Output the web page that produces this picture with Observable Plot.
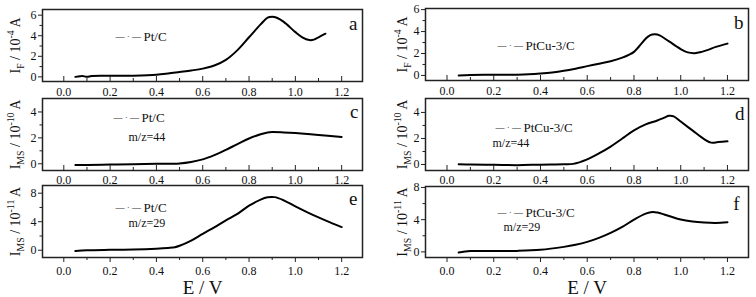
<!DOCTYPE html>
<html><head><meta charset="utf-8">
<script src="https://cdn.jsdelivr.net/npm/d3@7"></script>
<script src="https://cdn.jsdelivr.net/npm/@observablehq/plot@0.6"></script>
<style>
body{margin:0;background:#fff;}
#wrap{position:relative;width:756px;height:297px;overflow:hidden;background:#fff;}
#wrap svg{position:absolute;}
#wrap svg, #wrap svg text{font-family:'Liberation Serif','Times New Roman',serif !important;}
</style></head><body><div id="wrap"></div>
<script>
// ---- data ----
const xTicks = [0, 0.2, 0.4, 0.6, 0.8, 1.0, 1.2];
const xMinor = [0.1, 0.3, 0.5, 0.7, 0.9, 1.1];

const aE = [0.05,0.07,0.08,0.10,0.12,0.2,0.3,0.4,0.45,0.5,0.55,0.6,0.65,0.7,0.75,0.8,0.85,0.88,0.9,0.92,0.95,1.0,1.03,1.06,1.08,1.1,1.13];
const aI = [0.0,0.05,0.09,0.0,0.08,0.1,0.12,0.2,0.32,0.47,0.62,0.8,1.1,1.65,2.6,3.85,5.1,5.75,5.85,5.75,5.35,4.35,3.85,3.58,3.62,3.85,4.2];

const bE = [0.05,0.1,0.2,0.3,0.35,0.4,0.45,0.5,0.55,0.6,0.65,0.7,0.75,0.78,0.8,0.83,0.85,0.87,0.89,0.91,0.95,1.0,1.03,1.06,1.09,1.12,1.15,1.2];
const bI = [0.0,0.05,0.06,0.07,0.1,0.17,0.27,0.42,0.62,0.85,1.07,1.3,1.62,1.9,2.15,2.85,3.35,3.68,3.75,3.65,3.1,2.4,2.1,2.03,2.15,2.35,2.6,2.9];

const cE = [0.05,0.1,0.2,0.3,0.4,0.5,0.55,0.6,0.65,0.7,0.75,0.8,0.85,0.88,0.9,0.95,1.0,1.1,1.2];
const cI = [-0.1,-0.1,-0.06,-0.03,0.0,0.03,0.14,0.34,0.67,1.08,1.52,1.95,2.28,2.42,2.45,2.42,2.37,2.23,2.07];

const dE = [0.05,0.1,0.2,0.3,0.4,0.5,0.54,0.6,0.65,0.7,0.75,0.8,0.85,0.9,0.93,0.95,0.97,1.0,1.05,1.1,1.13,1.16,1.2];
const dI = [0.02,0.0,-0.02,-0.05,-0.01,0.02,0.05,0.4,0.85,1.38,2.0,2.62,3.08,3.38,3.6,3.74,3.7,3.3,2.62,1.95,1.68,1.72,1.78];

const eE = [0.05,0.1,0.2,0.3,0.4,0.45,0.48,0.5,0.55,0.6,0.65,0.7,0.75,0.8,0.85,0.88,0.91,0.95,1.0,1.05,1.1,1.15,1.2];
const eI = [-0.12,-0.02,0.05,0.1,0.22,0.32,0.42,0.62,1.35,2.3,3.2,4.2,5.1,6.25,7.1,7.42,7.45,7.0,6.15,5.35,4.6,3.9,3.25];

const fE = [0.05,0.1,0.2,0.3,0.4,0.5,0.55,0.6,0.65,0.7,0.75,0.8,0.85,0.88,0.9,0.95,1.0,1.05,1.1,1.15,1.2];
const fI = [-0.08,0.1,0.1,0.12,0.25,0.62,0.88,1.24,1.74,2.36,3.1,4.0,4.75,4.95,4.88,4.45,4.02,3.78,3.65,3.6,3.68];

const yTicksA = [0, 2, 4, 6], yMinorA = [1, 3, 5];
const yTicksC = [0, 2, 4],    yMinorC = [1, 3];
const yTicksE = [0, 4, 8],    yMinorE = [2, 6];

const labelF = "I_{F} / 10^{-4} A";
const labelMS10 = "I_{MS} / 10^{-10} A";
const labelMS11 = "I_{MS} / 10^{-11} A";
const catPt = "Pt/C", catPtCu = "PtCu-3/C";
const mz44 = "m/z=44", mz29 = "m/z=29";
const xLabel = "E / V";
const legendSample = "\u2014 \u00B7 \u2014";

// ---- drawing ----
const FONT = "'Liberation Serif','Times New Roman',serif";
const LABEL_FS = 14;
const wrap = document.getElementById("wrap");

// turn "_{..}" / "^{..}" into sub/superscript tspans, then re-centre the label
function richify(svg, fs) {
  d3.select(svg).selectAll("text").each(function () {
    const s = this.textContent;
    if (!/[_^]\{/.test(s)) return;
    const el = d3.select(this);
    el.text(null).attr("text-anchor", "start");
    const re = /([_^])\{([^}]*)\}/g;
    let last = 0, m;
    const seg = (txt, shift, size) => {
      const t = el.append("tspan").attr("font-size", size).text(txt);
      if (shift) t.attr("baseline-shift", shift);
    };
    while ((m = re.exec(s))) {
      if (m.index > last) seg(s.slice(last, m.index), 0, fs);
      if (m[1] === "_") seg(m[2], -0.28 * fs, 0.7 * fs);
      else seg(m[2], 0.42 * fs, 0.7 * fs);
      last = re.lastIndex;
    }
    if (last < s.length) seg(s.slice(last), 0, fs);
    const len = this.getComputedTextLength();
    el.attr("x", -len / 2);
  });
}

function panel(p) {
  const data = p.E.map((e, i) => ({E: e, I: p.I[i]}));
  const marks = [
    Plot.line(data, {x: "E", y: "I", stroke: "#000", strokeWidth: 2, curve: "catmull-rom"}),
    Plot.axisX(xTicks, {tickSize: 0, tickPadding: p.xPad, tickFormat: d3.format(".1f"), fontSize: 12, label: null}),
    Plot.axisX(xTicks, {tickSize: p.xDir * 5, tickFormat: () => "", label: null, stroke: "#222"}),
    Plot.axisX(xMinor, {tickSize: p.xDir * 3, tickFormat: () => "", label: null, stroke: "#222"}),
    Plot.axisY(p.yTicks, {tickSize: 4, tickPadding: 2, fontSize: 12, label: null, stroke: "#222"}),
    Plot.axisY(p.yMinor, {tickSize: 2.5, tickFormat: () => "", label: null, stroke: "#222"}),
    Plot.frame({stroke: "#222", strokeWidth: 1.5}),
    Plot.text([p.yLabel], {text: d => d, frameAnchor: "left", rotate: -90, dx: p.labDx, fontSize: LABEL_FS, fill: "#111"}),
    Plot.text([legendSample], {text: d => d, frameAnchor: "top-left", dx: p.legDx, dy: p.legDy, textAnchor: "start", lineAnchor: "middle", fontSize: 9, fill: "#333"}),
    Plot.text([p.cat], {text: d => d, frameAnchor: "top-left", dx: p.legDx + 28, dy: p.legDy, textAnchor: "start", lineAnchor: "middle", fontSize: 13, fill: "#111"}),
    Plot.text([p.letter], {text: d => d, frameAnchor: "top-right", dx: p.letDx, dy: p.letDy, textAnchor: "end", lineAnchor: "middle", fontSize: 19, fill: "#111"})
  ];
  if (p.mz) marks.push(Plot.text([p.mz], {text: d => d, frameAnchor: "top-left", dx: p.mzDx, dy: p.mzDy, textAnchor: "start", lineAnchor: "middle", fontSize: 12, fill: "#111"}));
  if (p.xLab) marks.push(Plot.text([p.xLab], {text: d => d, frameAnchor: "bottom", dy: 30, lineAnchor: "middle", fontSize: 19, fill: "#111"}));
  const svg = Plot.plot({
    width: 378, height: p.h,
    marginLeft: p.ml, marginRight: p.mr, marginTop: p.mt, marginBottom: p.mb,
    x: {domain: [-0.092, 1.29]},
    y: {domain: p.yDomain},
    style: {fontFamily: FONT, fontSize: "12px", background: "transparent", overflow: "visible", color: "#111"},
    marks
  });
  svg.style.left = p.left + "px";
  svg.style.top = p.top + "px";
  wrap.appendChild(svg);
  richify(svg, LABEL_FS);
}

const L = {left: 0, ml: 42, mr: 16, labDx: -27};
const R = {left: 378, ml: 47, mr: 8, labDx: -23};

panel({...L, top: 0, h: 96, mt: 9, mb: 15, E: aE, I: aI, yDomain: [-0.45, 6.55], yTicks: yTicksA, yMinor: yMinorA,
  yLabel: labelF, cat: catPt, letter: "a", legDx: 73, legDy: 27, letDx: -5, letDy: 14, xDir: -1, xPad: 6});
panel({...R, top: 0, h: 96, mt: 8, mb: 16, E: bE, I: bI, yDomain: [-0.46, 6.1], yTicks: yTicksA, yMinor: yMinorA,
  yLabel: labelF, cat: catPtCu, letter: "b", legDx: 72, legDy: 37, letDx: -5, letDy: 14, xDir: -1, xPad: 6});
panel({...L, top: 89, h: 96, mt: 9, mb: 15, E: cE, I: cI, yDomain: [-0.52, 5.04], yTicks: yTicksC, yMinor: yMinorC,
  yLabel: labelMS10, cat: catPt, mz: mz44, mzDx: 86, mzDy: 39, letter: "c", legDx: 71, legDy: 19, letDx: -4, letDy: 13, xDir: -1, xPad: 5});
panel({...R, top: 89, h: 96, mt: 9, mb: 15, E: dE, I: dI, yDomain: [-0.46, 5.07], yTicks: yTicksC, yMinor: yMinorC,
  yLabel: labelMS10, cat: catPtCu, mz: mz44, mzDx: 67, mzDy: 45, letter: "d", legDx: 70, legDy: 29, letDx: -4, letDy: 15, xDir: -1, xPad: 5});
panel({...L, top: 176, h: 121, mt: 9, mb: 40, E: eE, I: eI, yDomain: [-1.02, 9.08], yTicks: yTicksE, yMinor: yMinorE,
  yLabel: labelMS11, cat: catPt, mz: mz29, mzDx: 86, mzDy: 38, letter: "e", legDx: 73, legDy: 22, letDx: -5, letDy: 13, xDir: 1, xPad: 9, xLab: xLabel});
panel({...R, top: 176, h: 121, mt: 10, mb: 40, E: fE, I: fI, yDomain: [-0.7, 8.12], yTicks: yTicksE, yMinor: yMinorE,
  yLabel: labelMS11, cat: catPtCu, mz: mz29, mzDx: 78, mzDy: 41, letter: "f", legDx: 72, legDy: 26, letDx: -9, letDy: 17, xDir: 1, xPad: 9, xLab: xLabel});
</script>
</body></html>
